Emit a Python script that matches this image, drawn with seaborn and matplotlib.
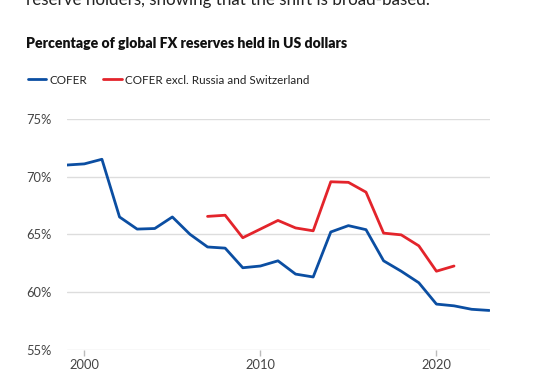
import matplotlib
matplotlib.use("Agg")
import matplotlib.pyplot as plt
import matplotlib.transforms as mtrans
from matplotlib.lines import Line2D
import seaborn as sns
import pandas as pd

years_cofer = list(range(1999, 2024))
cofer = [71.0, 71.1, 71.5, 66.5, 65.45, 65.5, 66.5, 65.0, 63.9, 63.8, 62.1, 62.25,
         62.7, 61.55, 61.3, 65.2, 65.75, 65.4, 62.7, 61.8, 60.8, 58.95, 58.8, 58.5, 58.4]
years_excl = list(range(2007, 2022))
cofer_excl = [66.55, 66.65, 64.7, 65.45, 66.2, 65.55, 65.3, 69.55, 69.5, 68.65,
              65.1, 64.95, 64.0, 61.8, 62.25]
series_names = ["COFER", "COFER excl. Russia and Switzerland"]
y_ticks = [55, 60, 65, 70, 75]
x_ticks = [2000, 2010, 2020]

df = pd.concat([
    pd.DataFrame({"year": years_cofer, "value": cofer, "series": series_names[0]}),
    pd.DataFrame({"year": years_excl, "value": cofer_excl, "series": series_names[1]}),
])

sns.set_theme(style="white")
plt.rcParams['font.family'] = ['Lato', 'DejaVu Sans']

BLUE = "#0b4ea2"
RED = "#e3242b"
W, H = 538, 375

fig = plt.figure(figsize=(5.38, 3.75), dpi=100)
ax = fig.add_axes([0.124, 0.0675, 0.787, 0.6155])
sns.lineplot(data=df, x="year", y="value", hue="series", palette=[BLUE, RED],
             linewidth=2.0, ax=ax, legend=False)

ax.set_xlim(1999, 2023.05)
ax.set_ylim(55, 75)
ax.set_yticks(y_ticks)
ax.set_yticklabels([f"{v}%" for v in y_ticks])
ax.set_xticks(x_ticks)
ax.set_xticklabels([str(v) for v in x_ticks])
ax.yaxis.grid(True, color="#dddddd", linewidth=1)
ax.set_axisbelow(True)
for s in ax.spines.values():
    s.set_visible(False)
ax.set_xlabel("")
ax.set_ylabel("")
ax.tick_params(axis="y", length=0, pad=0, labelsize=9.3, labelcolor="#444444")
ax.tick_params(axis="x", length=4, width=1, color="#bbbbbb", pad=3, labelsize=9.3,
               labelcolor="#444444", bottom=True)
for lbl in ax.get_yticklabels():
    lbl.set_horizontalalignment("left")
    lbl.set_transform(mtrans.blended_transform_factory(fig.transFigure, ax.transData))
    lbl.set_x(26 / W)

fig.text(26 / W, 1 - 44 / H, "Percentage of global FX reserves held in US dollars",
         fontsize=10.1, fontweight="heavy", color="#111111", va="center", ha="left")

sub = fig.text(26 / W, 1 - 5 / H, "reserve holders, showing that the shift is broad-based.",
               fontsize=14, color="#222222", va="baseline", ha="left")
fig.canvas.draw()
bb = sub.get_window_extent(fig.canvas.get_renderer())
sub.set_fontsize(14 * 407 / bb.width)

handles = [Line2D([], [], color=BLUE, linewidth=2.0), Line2D([], [], color=RED, linewidth=2.0)]
fig.legend(handles, series_names, loc="center left", bbox_to_anchor=(17 / W, 1 - 80 / H),
           ncol=2, frameon=False, fontsize=8.4, handlelength=1.6, handletextpad=0.25,
           columnspacing=1.4, labelcolor="#222222")

fig.savefig("out.png", dpi=100)
